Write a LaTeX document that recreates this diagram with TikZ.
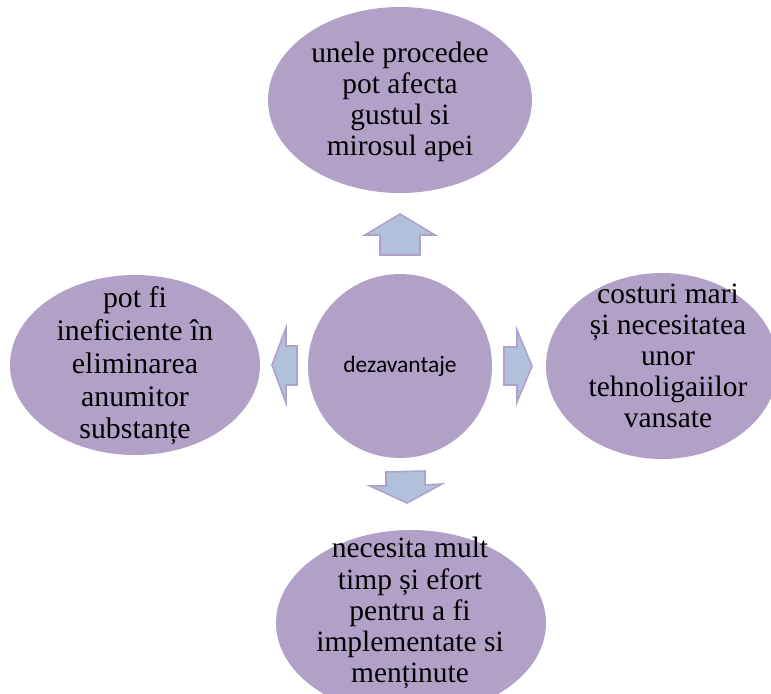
\documentclass[tikz,border=0pt]{standalone}
\usepackage{fontspec}
\setmainfont{Liberation Serif}
\newfontfamily\calib{Carlito}
\usepackage{xcolor}
\usetikzlibrary{calc,positioning}

\definecolor{lila}{HTML}{B2A1C7}
\definecolor{bleu}{HTML}{B2C1DB}

\tikzset{
  bubble/.style={fill=lila},
  txt/.style={align=center,inner sep=0pt,font=\fontsize{22.1}{23.3}\selectfont},
  bigarrow/.style={fill=bleu,draw=lila,line width=1.2pt,line join=miter}
}

\begin{document}
\begin{tikzpicture}[x=0.75pt,y=-0.75pt]
  \clip (0,0) rectangle (771,693);
  % bubbles
  \fill[bubble] (400,366) circle [radius=92];
  \fill[bubble] (400,100) ellipse [x radius=132,y radius=93];
  \fill[bubble] (662,366) ellipse [x radius=116,y radius=93];
  \fill[bubble] (411,623) ellipse [x radius=135,y radius=93];
  \fill[bubble] (135,365) ellipse [x radius=125,y radius=90];
  % labels
  \node[inner sep=0pt,font=\calib\fontsize{17.6}{20}\selectfont] (dez) at (400,366) {dezavantaje};
  \node[txt] (gust) at (400,102) {unele procedee\\pot afecta\\gustul si\\mirosul apei};
  \node[txt] (cost) at (668,356) {costuri mari\\și necesitatea\\unor\\tehnoligaiilor\\vansate};
  \node[txt] (timp) at (410,613) {necesita mult\\timp și efort\\pentru a fi\\implementate si\\menținute};
  \node[txt,font=\fontsize{22.4}{24.6}\selectfont] (inef) at (135,366) {pot fi\\ineficiente în\\eliminarea\\anumitor\\substanțe};
  % arrows
  \draw[bigarrow] (380,255) -- (380,235) -- (365,235) -- (400,214) -- (435,235) -- (420,235) -- (420,255) -- cycle;
  \draw[bigarrow] (504,347) -- (517,347) -- (517,330) -- (532,366) -- (517,402) -- (517,385) -- (504,385) -- cycle;
  \draw[bigarrow] (386,472) -- (425,471) -- (425,485) -- (442,484) -- (407,503) -- (370,486) -- (386,486) -- cycle;
  \draw[bigarrow] (297,346) -- (286,346) -- (286,328) -- (272,365) -- (286,403) -- (286,385) -- (297,385) -- cycle;
\end{tikzpicture}
\end{document}
